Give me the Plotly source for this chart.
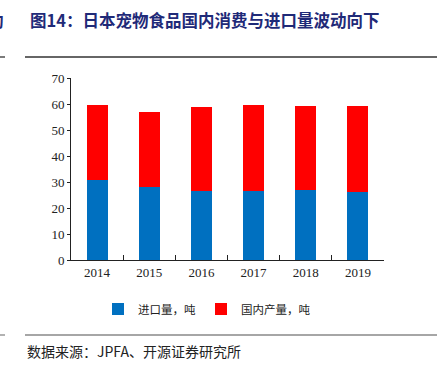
import plotly.graph_objects as go

years = ["2014", "2015", "2016", "2017", "2018", "2019"]
imports = [30.6, 28.0, 26.6, 26.5, 26.8, 26.3]
domestic = [29.1, 29.0, 32.1, 33.1, 32.5, 32.9]
y_ticks = [0, 10, 20, 30, 40, 50, 60, 70]

W, H = 439, 365
L, R, T, B = 71, 55, 78, 105
pw, ph = W - L - R, H - T - B

def px(x):
    return (x - L) / pw

def py(y):
    return (H - B - y) / ph

fig = go.Figure()
fig.add_trace(go.Bar(x=years, y=imports, name="进口量，吨", marker_color="#0070C0",
                     marker_line_width=0, width=0.4))
fig.add_trace(go.Bar(x=years, y=domestic, name="国内产量，吨", marker_color="#FF0000",
                     marker_line_width=0, width=0.4))

fig.update_layout(
    barmode="stack",
    width=W, height=H,
    margin=dict(l=L, r=R, t=T, b=B, autoexpand=False),
    plot_bgcolor="white", paper_bgcolor="white",
    showlegend=True,
    legend=dict(orientation="h", x=px(207), xanchor="center", y=py(309), yanchor="middle",
                traceorder="normal",
                font=dict(family="Noto Sans CJK SC", size=11.5, color="#222"),
                itemwidth=30, tracegroupgap=0),
    xaxis=dict(type="category", showline=True, linecolor="#222", linewidth=1,
               ticks="inside", ticklen=5, tickcolor="#222", tickson="boundaries",
               tickfont=dict(family="Liberation Serif", size=13, color="#222"),
               showgrid=False),
    yaxis=dict(range=[0, 70], tickvals=y_ticks, showline=True, linecolor="#222",
               linewidth=1, ticks="outside", ticklen=3, tickcolor="#222",
               tickfont=dict(family="Liberation Serif", size=13, color="#222"),
               showgrid=False, zeroline=False),
)

annotations = [
    dict(text="<b>图14：日本宠物食品国内消费与进口量波动向下</b>", x=px(28), y=py(20),
         xref="paper", yref="paper", xanchor="left", yanchor="middle", showarrow=False,
         font=dict(family="Noto Sans CJK SC", size=16.5, color="#1F2A78")),
    dict(text="<b>动</b>", x=px(6), y=py(20), xref="paper", yref="paper",
         xanchor="right", yanchor="middle", showarrow=False,
         font=dict(family="Noto Sans CJK SC", size=16.5, color="#1F2A78")),
    dict(text="数据来源：JPFA、开源证券研究所", x=px(25), y=py(351),
         xref="paper", yref="paper", xanchor="left", yanchor="middle", showarrow=False,
         font=dict(family="Noto Sans CJK SC", size=14, color="#222")),
]
fig.update_layout(annotations=annotations)

shapes = [
    dict(type="line", xref="paper", yref="paper", x0=px(25), x1=px(437), y0=py(57), y1=py(57),
         line=dict(color="#333", width=1.3)),
    dict(type="line", xref="paper", yref="paper", x0=px(0), x1=px(5), y0=py(57), y1=py(57),
         line=dict(color="#333", width=1.3)),
    dict(type="line", xref="paper", yref="paper", x0=px(25), x1=px(437), y0=py(335), y1=py(335),
         line=dict(color="#888", width=1.3)),
    dict(type="line", xref="paper", yref="paper", x0=px(0), x1=px(5), y0=py(335), y1=py(335),
         line=dict(color="#888", width=1.3)),
]
fig.update_layout(shapes=shapes)

fig.write_html("out.html", config={"displayModeBar": False},
               post_script="document.body.style.margin='0';document.body.style.overflow='hidden';")
